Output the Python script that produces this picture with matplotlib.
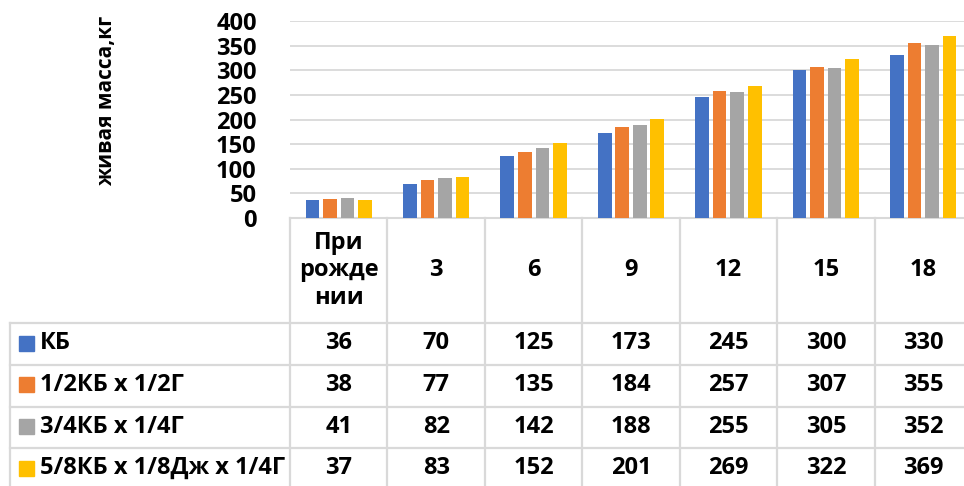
import matplotlib.pyplot as plt
import matplotlib.transforms as mtransforms
import numpy as np

plt.rcParams['font.family'] = ['Open Sans', 'DejaVu Sans']
plt.rcParams['font.weight'] = 'bold'

# data
categories = ['При\nрожде\nнии', '3', '6', '9', '12', '15', '18']
series_names = ['КБ', '1/2КБ х 1/2Г', '3/4КБ х 1/4Г', '5/8КБ х 1/8Дж х 1/4Г']
kb = [36, 70, 125, 173, 245, 300, 330]
kb_g = [38, 77, 135, 184, 257, 307, 355]
kb3_g = [41, 82, 142, 188, 255, 305, 352]
kb5_dzh_g = [37, 83, 152, 201, 269, 322, 369]
series = [kb, kb_g, kb3_g, kb5_dzh_g]
colors = ['#4472C4', '#ED7D31', '#A5A5A5', '#FFC000']
yticks = [0, 50, 100, 150, 200, 250, 300, 350, 400]

W, H = 964, 486
fig = plt.figure(figsize=(W / 100, H / 100), dpi=100)
grid_c = '#D9D9D9'


def fx(px):
    return px / W


def fy(py):
    return 1 - py / H


# plot area (runs a little past the right edge, like the original)
ax_l, ax_r, ax_t, ax_b = 290, 972, 21, 218
ax = fig.add_axes([fx(ax_l), fy(ax_b), fx(ax_r - ax_l), (ax_b - ax_t) / H])

x = np.arange(len(categories))
pitch, bw = 0.18, 0.14
for i, (vals, c) in enumerate(zip(series, colors)):
    ax.bar(x + (i - 1.5) * pitch, vals, width=bw, color=c, zorder=3)

ax.set_xlim(-0.5, len(categories) - 0.5)
ax.set_ylim(0, 400)
ax.set_yticks(yticks)
ax.set_xticks([])
ax.yaxis.grid(True, color=grid_c, lw=1.3, zorder=0)
for s in ['top', 'right', 'left']:
    ax.spines[s].set_visible(False)
ax.spines['bottom'].set_color(grid_c)
ax.spines['bottom'].set_linewidth(1.5)
ax.tick_params(axis='y', length=0, pad=24, labelsize=17)
for lab in ax.get_yticklabels():
    lab.set_fontweight('bold')

fig.text(fx(107), fy(101), 'живая масса,кг', rotation=90, ha='center',
         va='center', fontsize=15, fontweight='bold')

# data table below the axis
trans = ax.get_xaxis_transform()
blend = mtransforms.blended_transform_factory(ax.transData, fig.transFigure)
row_lines = [323, 365, 406.7, 448.3, 490]
tbl_left = 10
lw_t = 1.6

for k in range(len(categories) + 1):
    ax.plot([k - 0.5, k - 0.5], [0, -(H - ax_b + 10) / (ax_b - ax_t)],
            transform=trans, color=grid_c, lw=lw_t, clip_on=False)
for py in row_lines:
    fig.add_artist(plt.Line2D([fx(tbl_left), 1.01], [fy(py), fy(py)],
                              color=grid_c, lw=lw_t))
fig.add_artist(plt.Line2D([fx(tbl_left), fx(tbl_left)], [fy(row_lines[0]), 0],
                          color=grid_c, lw=lw_t))

# header with categories
header_mid = (ax_b + row_lines[0]) / 2
for xi, cat in zip(x, categories):
    fig.text(xi, fy(header_mid), cat, ha='center', va='center', fontsize=17,
             fontweight='bold', linespacing=1.2, transform=blend)

# rows: legend key, series name, values
for r, (name, vals, c) in enumerate(zip(series_names, series, colors)):
    mid = (row_lines[r] + row_lines[r + 1]) / 2 - 1
    fig.add_artist(plt.Rectangle((fx(19), fy(mid + 7.5)), fx(15), 15 / H,
                                 color=c, transform=fig.transFigure))
    fig.text(fx(40), fy(mid), name, ha='left', va='center', fontsize=17,
             fontweight='bold')
    for xi, v in zip(x, vals):
        fig.text(xi, fy(mid), str(v), ha='center', va='center', fontsize=17,
                 fontweight='bold', transform=blend)

fig.savefig('out.png', dpi=100)
